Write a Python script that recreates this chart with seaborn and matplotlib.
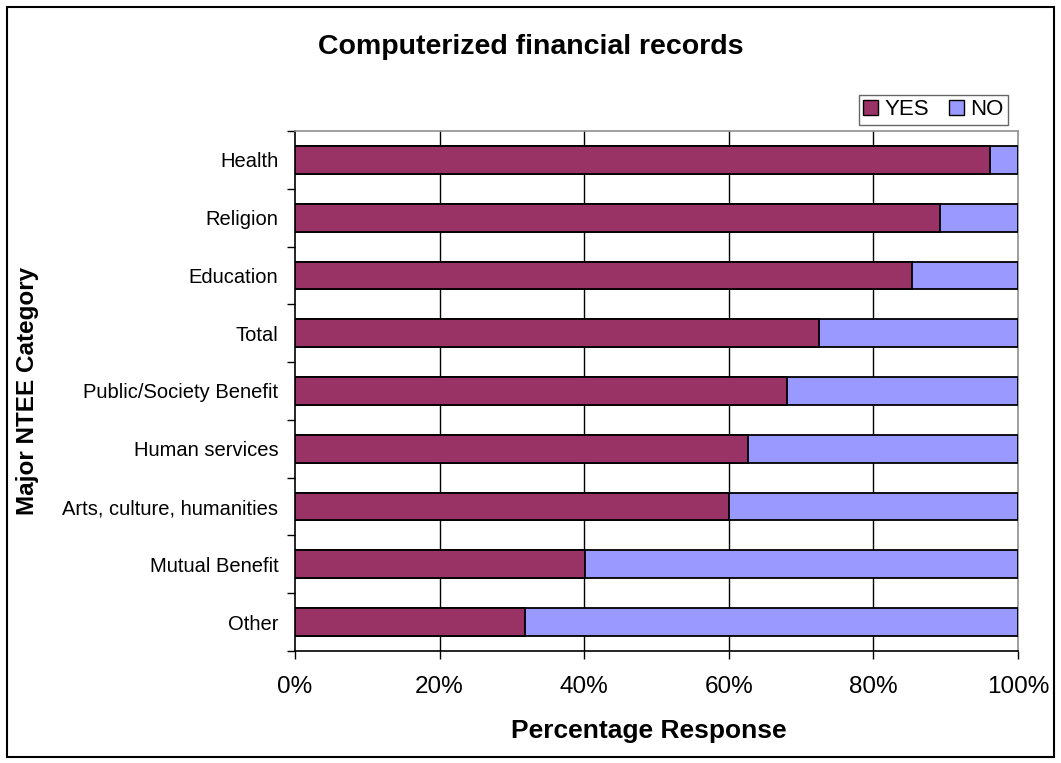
import matplotlib
matplotlib.use("Agg")
import matplotlib.pyplot as plt
import matplotlib.patches as mpatches
import numpy as np
import pandas as pd
import seaborn as sns

categories = ["Health", "Religion", "Education", "Total", "Public/Society Benefit",
              "Human services", "Arts, culture, humanities", "Mutual Benefit", "Other"]
yes_pct = [96.1, 89.2, 85.3, 72.5, 68.1, 62.6, 60.0, 40.1, 31.8]
no_pct = [100 - v for v in yes_pct]
x_ticks = [0, 20, 40, 60, 80, 100]
x_tick_labels = ["0%", "20%", "40%", "60%", "80%", "100%"]

YES_COLOR = "#993366"
NO_COLOR = "#9999FF"

sns.set_theme(style="white")
plt.rcParams["font.family"] = ["Liberation Sans", "DejaVu Sans"]
plt.rcParams["text.color"] = "black"
plt.rcParams["axes.labelcolor"] = "black"
plt.rcParams["xtick.color"] = "black"
plt.rcParams["ytick.color"] = "black"

df = pd.DataFrame({"category": categories, "yes": yes_pct, "no": no_pct})
df["total"] = df["yes"] + df["no"]

fig = plt.figure(figsize=(10.61, 7.63), dpi=100)
ax = fig.add_axes([295 / 1061, 1 - 651 / 763, (1018 - 295) / 1061, (651 - 131) / 763])

# stacked bars: full-length NO layer, YES layer on top
sns.barplot(data=df, y="category", x="total", orient="h", color=NO_COLOR,
            saturation=1, width=0.48, edgecolor="black", linewidth=1.3, ax=ax, zorder=3)
sns.barplot(data=df, y="category", x="yes", orient="h", color=YES_COLOR,
            saturation=1, width=0.48, edgecolor="black", linewidth=1.3, ax=ax, zorder=4)

ax.set_xlim(0, 100)
ax.set_ylim(len(categories) - 0.5, -0.5)
ax.set_xticks(x_ticks)
ax.set_xticklabels(x_tick_labels, fontsize=17.5)
ax.tick_params(axis="x", which="major", direction="out", length=6, width=1,
               color="black", pad=12, bottom=True)
ax.tick_params(axis="y", which="major", length=0, pad=12, labelsize=14.5)
ax.set_yticks(np.arange(len(categories) + 1) - 0.5, minor=True)
ax.tick_params(axis="y", which="minor", direction="out", length=6, width=1,
               color="black", left=True)

ax.grid(False)
for gx in x_ticks[1:-1]:
    ax.axvline(gx, color="black", linewidth=1, zorder=1)

for side in ["left", "bottom"]:
    ax.spines[side].set_color("black")
    ax.spines[side].set_linewidth(1.2)
for side in ["top", "right"]:
    ax.spines[side].set_color("#909090")
    ax.spines[side].set_linewidth(1.2)

ax.set_xlabel("Percentage Response", fontsize=19, fontweight="bold")
ax.xaxis.set_label_coords(0.49, -(731 - 651) / 520, transform=ax.transAxes)
ax.xaxis.label.set_va("center")
ax.set_ylabel("Major NTEE Category", fontsize=17.5, fontweight="bold")
ax.yaxis.set_label_coords(-267 / 723, 0.5)
ax.yaxis.label.set_va("center")

fig.text(0.5, 1 - 47 / 763, "Computerized financial records", ha="center", va="center",
         fontsize=20.5, fontweight="bold")

handles = [mpatches.Patch(facecolor=YES_COLOR, edgecolor="black", label="YES"),
           mpatches.Patch(facecolor=NO_COLOR, edgecolor="black", label="NO")]
leg = fig.legend(handles=handles, ncol=2, loc="upper right",
                 bbox_to_anchor=(1008 / 1061, 1 - 95 / 763), fontsize=16,
                 frameon=True, fancybox=False, handlelength=0.65, handleheight=0.65,
                 handletextpad=0.3, columnspacing=0.9, borderpad=0.2, borderaxespad=0)
leg.get_frame().set_edgecolor("#404040")
leg.get_frame().set_linewidth(1.0)

# outer chart border
fig.patches.append(mpatches.Rectangle((7 / 1061, 6 / 763), 1047 / 1061, 750 / 763,
                                      transform=fig.transFigure, fill=False,
                                      edgecolor="black", linewidth=1.5))

fig.savefig("out.png", dpi=100)
